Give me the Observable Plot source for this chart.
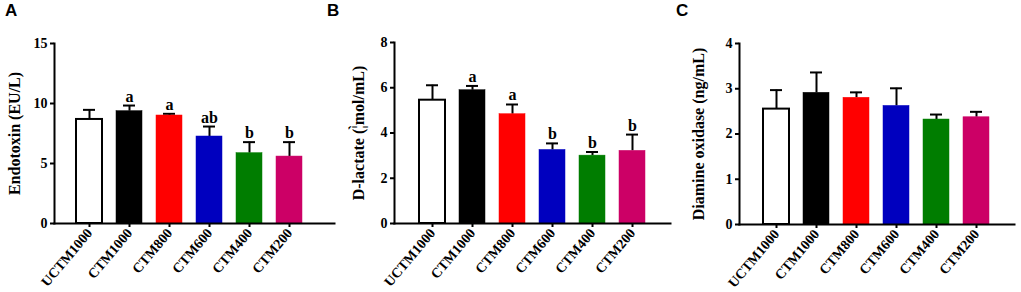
<!DOCTYPE html>
<html>
<head>
<meta charset="utf-8">
<script src="https://cdn.jsdelivr.net/npm/d3@7"></script>
<script src="https://cdn.jsdelivr.net/npm/@observablehq/plot@0.6"></script>
<style>
  html, body { margin: 0; padding: 0; background: #fff; }
  #root { position: relative; width: 1021px; height: 292px; overflow: hidden; background: #fff; }
  .panel { position: absolute; top: 0; }
  .letter { position: absolute; top: 1px; font-family: "Liberation Sans", Arial, sans-serif; font-weight: bold; font-size: 17px; color: #000; }
</style>
</head>
<body>
<div id="root"></div>
<script>
// Categories and colours
const groups = ["UCTM1000", "CTM1000", "CTM800", "CTM600", "CTM400", "CTM200"];
const groupColors = ["#ffffff", "#000000", "#ff0000", "#0000bf", "#007d00", "#cc0066"];

// Panel A: Endotoxin (EU/L)
const endotoxinMean  = [8.67, 9.36, 9.00, 7.25, 5.86, 5.58];
const endotoxinUpper = [9.47, 9.83, 9.14, 8.08, 6.78, 6.78];
const endotoxinLetters = ["", "a", "a", "ab", "b", "b"];
const endotoxinTicks = [0, 5, 10, 15];

// Panel B: D-lactate
const lactateMean  = [5.45, 5.89, 4.83, 3.25, 3.00, 3.21];
const lactateUpper = [6.11, 6.08, 5.26, 3.54, 3.16, 3.93];
const lactateLetters = ["", "a", "a", "b", "b", "b"];
const lactateTicks = [0, 2, 4, 6, 8];

// Panel C: Diamine oxidase (ng/mL)
const daoMean  = [2.55, 2.91, 2.80, 2.62, 2.32, 2.37];
const daoUpper = [2.97, 3.36, 2.92, 3.01, 2.43, 2.49];
const daoLetters = ["", "", "", "", "", ""];
const daoTicks = [0, 1, 2, 3, 4];

const panelLetters = ["A", "B", "C"];

function panel(o) {
  const data = groups.map((g, i) => ({
    g, m: o.mean[i], u: o.upper[i], l: o.letters[i], c: groupColors[i]
  }));
  return Plot.plot({
    width: o.width,
    height: 292,
    marginLeft: o.marginLeft,
    marginRight: o.marginRight,
    marginTop: o.marginTop,
    marginBottom: o.marginBottom,
    style: {
      fontFamily: "'Liberation Serif', 'Times New Roman', serif",
      fontWeight: "bold",
      fontSize: "14px",
      color: "#000",
      background: "transparent",
      overflow: "visible"
    },
    x: { domain: groups, paddingInner: 0.345, paddingOuter: 0.1725, insetLeft: o.insetLeft, insetRight: o.insetRight, label: null },
    y: { domain: [0, o.ticks[o.ticks.length - 1]], label: null },
    marks: [
      Plot.ruleX(data, { x: "g", y1: "m", y2: "u", stroke: "#000", strokeWidth: 2 }),
      Plot.tickY(data, { x: "g", y: "u", stroke: "#000", strokeWidth: 2, insetLeft: 7, insetRight: 7 }),
      Plot.barY(data, {
        x: "g", y: "m", fill: d => d.c,
        stroke: d => d.c === "#ffffff" ? "#000" : d.c,
        strokeWidth: d => d.c === "#ffffff" ? 2 : 0.5
      }),
      Plot.text(data, { x: "g", y: "u", text: "l", dy: -4, lineAnchor: "bottom", fontSize: 16, fontWeight: "bold", fill: "#000" }),
      Plot.frame({ anchor: "left", stroke: "#000", strokeWidth: 2 }),
      Plot.frame({ anchor: "bottom", stroke: "#000", strokeWidth: 2 }),
      Plot.axisY({ ticks: o.ticks, tickFormat: d => String(d), tickSize: 4, strokeWidth: 2, tickPadding: 3, fontSize: 14, label: null }),
      Plot.axisX({ tickSize: 4, strokeWidth: 2, tickRotate: -50, tickPadding: 3, fontSize: 14, label: null }),
      Plot.text([o.label], {
        frameAnchor: "left", dx: -o.labelOffset, rotate: -90, lineAnchor: "top", textAnchor: "middle",
        fontSize: 16, fontWeight: "bold", fill: "#000"
      })
    ]
  });
}

const root = document.getElementById("root");
const specs = [
  { left: 0, width: 340, marginLeft: 54, marginRight: 6, marginTop: 43, marginBottom: 69, insetLeft: 12.6, insetRight: 23.2,
    mean: endotoxinMean, upper: endotoxinUpper, letters: endotoxinLetters, ticks: endotoxinTicks, label: "Endotoxin (EU/L)", labelOffset: 46, letterLeft: 5 },
  { left: 340, width: 340, marginLeft: 54, marginRight: 10, marginTop: 42, marginBottom: 69, insetLeft: 15.9, insetRight: 15.3,
    mean: lactateMean, upper: lactateUpper, letters: lactateLetters, ticks: lactateTicks, label: "D-lactate (\u00A6\u0300mol/mL)", labelOffset: 42, letterLeft: 327 },
  { left: 680, width: 341, marginLeft: 59, marginRight: 7, marginTop: 43, marginBottom: 68, insetLeft: 15, insetRight: 14.9,
    mean: daoMean, upper: daoUpper, letters: daoLetters, ticks: daoTicks, label: "Diamine oxidase (ng/mL)", labelOffset: 47, letterLeft: 676 }
];
specs.forEach((s, i) => {
  const div = document.createElement("div");
  div.className = "panel";
  div.style.left = s.left + "px";
  div.appendChild(panel(s));
  root.appendChild(div);
  const L = document.createElement("div");
  L.className = "letter";
  L.style.left = s.letterLeft + "px";
  L.textContent = panelLetters[i];
  root.appendChild(L);
});
</script>
</body>
</html>
